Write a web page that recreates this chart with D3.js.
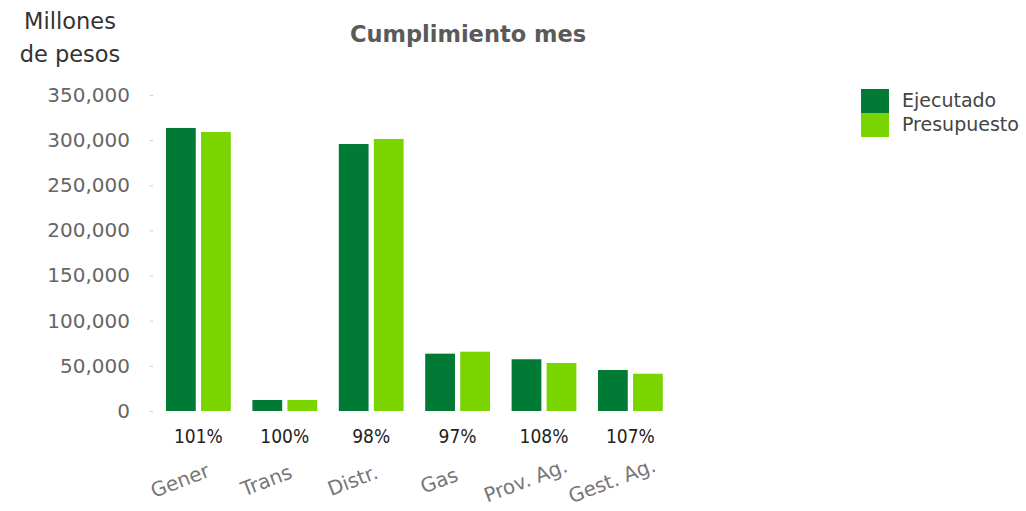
<!DOCTYPE html>
<html>
<head>
<meta charset="utf-8">
<script src="https://cdn.jsdelivr.net/npm/d3@7"></script>
<style>
  body { margin: 0; background: #fff; }
  svg { display: block; }
</style>
</head>
<body>
<svg id="chart" width="1026" height="511"></svg>
<script>
// data
const categories = ["Gener", "Trans", "Distr.", "Gas", "Prov. Ag.", "Gest. Ag."];
const seriesNames = ["Ejecutado", "Presupuesto"];
const ejecutado = [313500, 12200, 295700, 63500, 57300, 45400];
const presupuesto = [309000, 12200, 301300, 65700, 53200, 41300];
const cumplimiento = ["101%", "100%", "98%", "97%", "108%", "107%"];
const yTicks = [0, 50000, 100000, 150000, 200000, 250000, 300000, 350000];
const colors = ["#007a35", "#7ad400"];

const svg = d3.select("#chart");
const sans = "DejaVu Sans, Verdana, sans-serif";

const y = d3.scaleLinear().domain([0, 350000]).range([411, 95]);
const x0 = d3.scaleBand().domain(categories).range([144.4, 684.4]).paddingInner(0.25).paddingOuter(0.25);
const x1 = d3.scaleBand().domain(seriesNames).range([0, x0.bandwidth()]).paddingInner(0.15);
const color = d3.scaleOrdinal().domain(seriesNames).range(colors);

// y axis: labels + tiny tick dots, no line
const yAxis = d3.axisLeft(y).tickValues(yTicks).tickSize(3).tickPadding(20)
    .tickFormat(d3.format(","));
const gy = svg.append("g").attr("transform", "translate(153,0)").call(yAxis);
gy.select(".domain").remove();
gy.selectAll(".tick line").attr("stroke", "#ccc");
gy.selectAll(".tick text")
    .attr("font-family", sans)
    .attr("font-size", 20)
    .attr("fill", "#666");

// bars
const rows = categories.map((c, i) => ({ cat: c, values: [ejecutado[i], presupuesto[i]] }));
const groups = svg.selectAll(".grp").data(rows).enter().append("g")
    .attr("transform", d => `translate(${x0(d.cat)},0)`);
groups.selectAll("rect")
    .data(d => d.values.map((v, j) => ({ name: seriesNames[j], value: v })))
    .enter().append("rect")
    .attr("x", d => x1(d.name))
    .attr("width", x1.bandwidth())
    .attr("y", d => y(d.value))
    .attr("height", d => y(0) - y(d.value))
    .attr("fill", d => color(d.name));

// percent labels
svg.selectAll(".pct").data(categories).enter().append("text")
    .attr("x", d => x0(d) + x0.bandwidth() / 2)
    .attr("y", 443)
    .attr("text-anchor", "middle")
    .attr("font-family", "DejaVu Sans Condensed, " + sans)
    .attr("font-size", 19)
    .attr("fill", "#222")
    .text((d, i) => cumplimiento[i]);

// rotated category labels
svg.selectAll(".cat").data(categories).enter().append("text")
    .attr("transform", d => `translate(${x0(d) + x0.bandwidth() / 2 - 16},487) rotate(-21)`)
    .attr("text-anchor", "middle")
    .attr("font-family", sans)
    .attr("font-size", 20)
    .attr("fill", "#777")
    .text(d => d);

// title
svg.append("text")
    .attr("x", 468).attr("y", 42)
    .attr("text-anchor", "middle")
    .attr("font-family", sans)
    .attr("font-weight", "bold")
    .attr("font-size", 22.5)
    .attr("fill", "#5a5a5a")
    .text("Cumplimiento mes");

// y axis title
const yt = svg.append("text")
    .attr("text-anchor", "middle")
    .attr("font-family", sans)
    .attr("font-size", 22.5)
    .attr("fill", "#333");
yt.append("tspan").attr("x", 70).attr("y", 29).text("Millones");
yt.append("tspan").attr("x", 70).attr("y", 62).text("de pesos");

// legend
const legend = svg.append("g").attr("transform", "translate(861,89)");
const li = legend.selectAll("g").data(seriesNames).enter().append("g")
    .attr("transform", (d, i) => `translate(0,${i * 24})`);
li.append("rect").attr("width", 28).attr("height", 24).attr("fill", d => color(d));
li.append("text").attr("x", 41).attr("y", 18)
    .attr("font-family", sans)
    .attr("font-size", 19)
    .attr("fill", "#444")
    .text(d => d);
</script>
</body>
</html>
